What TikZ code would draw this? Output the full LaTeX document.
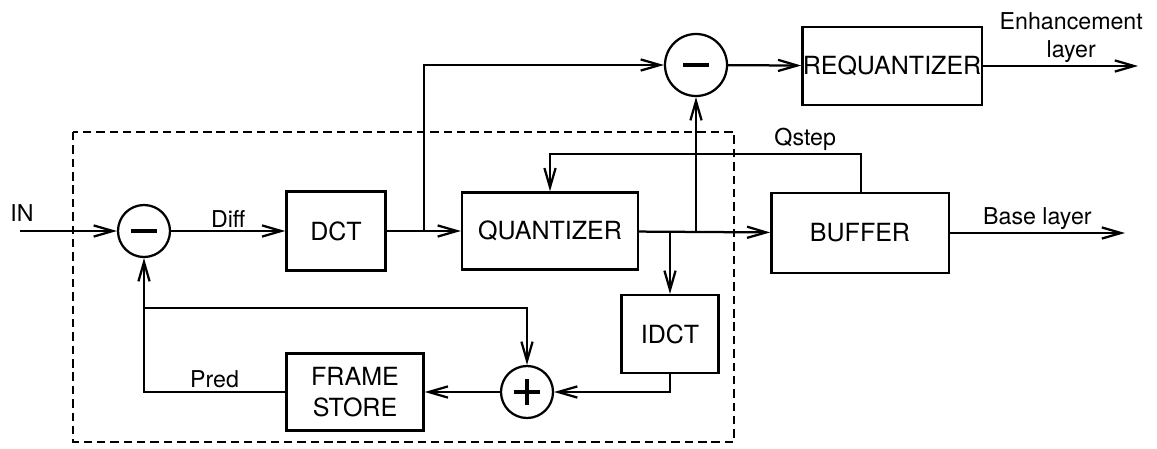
\documentclass[tikz,border=0pt]{standalone}
\usepackage{fontspec}
\setmainfont{TeX Gyre Heros}
\usetikzlibrary{positioning}
\usetikzlibrary{arrows.meta}

\tikzset{
    block/.style={draw, rectangle, line width=1.6pt, inner sep=0pt, align=center, font=\fontsize{17.8}{21.5}\selectfont},
    summer/.style={draw, circle, line width=1.6pt, inner sep=0pt, minimum size=1.3cm},
    subtr/.style={summer, path picture={
        \draw[line width=3.2pt] ([xshift=-3.3mm]path picture bounding box.center) -- ([xshift=3.3mm]path picture bounding box.center);}},
    adder/.style={summer, path picture={
        \draw[line width=2.8pt] ([xshift=-3.2mm]path picture bounding box.center) -- ([xshift=3.2mm]path picture bounding box.center)
            ([yshift=-3.2mm]path picture bounding box.center) -- ([yshift=3.2mm]path picture bounding box.center);}},
    tag/.style={font=\fontsize{16.5}{19.5}\selectfont, inner sep=2pt},
    flow/.style={line width=1.6pt, -{Straight Barb[length=4.8mm, width=2.8mm]}},
    loopbox/.style={line width=1.5pt, dash pattern=on 6pt off 3.5pt},
}

\begin{document}
\begin{tikzpicture}[x=0.025cm, y=-0.025cm]
    \useasboundingbox (0,0) rectangle (1157,448);

    % encoder loop
    \draw[loopbox] (73,132) rectangle (734,442);

    \node (sub1) [subtr] at (144,231) {};
    \node (dct) [block, minimum width=2.48cm, minimum height=1.98cm] at (336,231) {DCT};
    \node (quant) [block, minimum width=4.4cm, minimum height=1.93cm] at (550,231) {QUANTIZER};
    \node (idct) [block, minimum width=2.43cm, minimum height=1.95cm] at (670,334) {IDCT};
    \node (add) [adder] at (527,392) {};
    \node (fs) [block, minimum width=3.43cm, minimum height=1.93cm] at (355,392) {FRAME\\STORE};

    % outside the loop
    \node (sub2) [subtr, minimum size=1.55cm] at (696,65) {};
    \node (requant) [block, minimum width=4.48cm, minimum height=1.95cm] at (892,66) {REQUANTIZER};
    \node (buf) [block, minimum width=4.43cm, minimum height=2cm] at (860,233) {BUFFER};

    \coordinate (in) at (20,231);
    \coordinate (split) at (424,231);
    \coordinate (tap) at (144,308);
    \coordinate (qs) at (861,154);
    \coordinate (enh) at (1138,66);
    \coordinate (base) at (1125,233);

    \node (inlbl) [tag] at (22,213) {IN};
    \draw[flow] (in) -- (sub1);
    \draw[flow] (sub1) -- node (difflbl) [tag, above] {Diff} (dct);
    \draw[flow] (dct) -- (quant);
    \draw[flow] (split) |- (sub2);
    \draw[flow] (quant) -- (buf);
    \draw[flow] (sub2 |- quant) -- (sub2);
    \draw[flow] (idct |- quant) -- (idct);
    \draw[flow] (idct) |- (add);
    \draw[flow] (add) -- (fs);
    \draw[flow] (fs.west) -| node (predlbl) [tag, above, pos=0.25] {Pred} (sub1);
    \draw[flow] (tap) -| (add);

    % rate control
    \draw[flow] (qs |- buf.north) -- (qs) -| (quant);
    \node (qslbl) [tag, above left=0pt and 0.55cm of qs] {Qstep};

    \draw[flow] (sub2) -- (requant);
    \draw[flow] (requant) -- node (enhlbl) [tag, above, align=center, pos=0.57] {Enhancement\\layer} (enh);
    \draw[flow] (buf) -- node (baselbl) [tag, above, pos=0.5] {Base layer} (base);
\end{tikzpicture}
\end{document}
